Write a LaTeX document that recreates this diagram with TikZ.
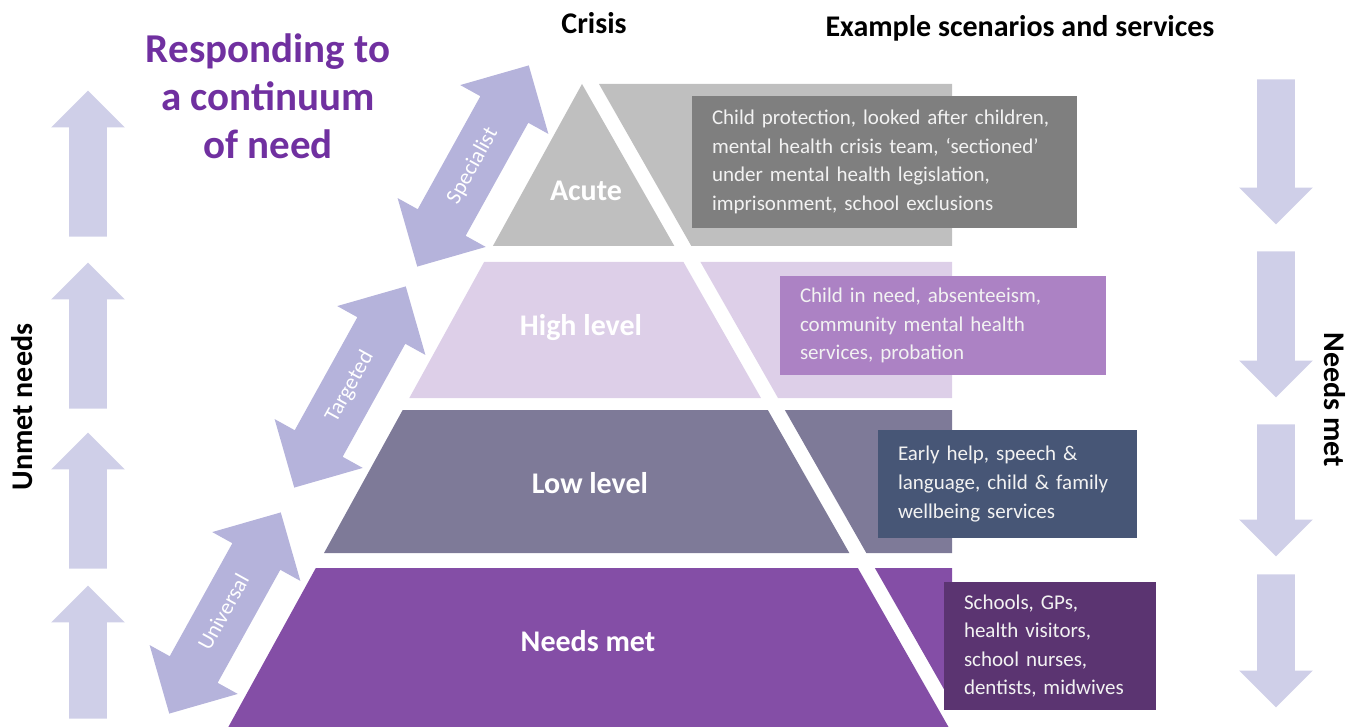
\documentclass[tikz,border=0pt]{standalone}
\usepackage{fontspec}
\setmainfont{Carlito}
\usetikzlibrary{shapes.arrows}
\usepackage{xcolor}
\definecolor{tieracute}{HTML}{BFBFBF}
\definecolor{tierhigh}{HTML}{DDCFE8}
\definecolor{tierlow}{HTML}{7E7A98}
\definecolor{tiermet}{HTML}{844EA6}
\definecolor{caseacute}{HTML}{7F7F7F}
\definecolor{casehigh}{HTML}{AC82C4}
\definecolor{caselow}{HTML}{475676}
\definecolor{casemet}{HTML}{5B3471}
\definecolor{casetext}{HTML}{F2F2F2}
\definecolor{titlepurple}{HTML}{7030A0}
\definecolor{reachfill}{HTML}{B5B3DB}
\definecolor{flowfill}{HTML}{CFCFE8}
\hyphenpenalty=10000
\tikzset{
  tierlabel/.style = {text=white, font=\fontsize{15}{18}\selectfont\bfseries},
  casebox/.style   = {fill=#1, text=casetext, align=left, inner xsep=10pt, inner ysep=0pt,
                      font=\fontsize{10.5}{14.3}\selectfont},
  reach/.style     = {double arrow, fill=reachfill, double arrow head extend=11.5pt,
                      minimum width=50pt, minimum height=115pt, rotate=61,
                      inner xsep=2pt, inner ysep=8.25pt, text height=8pt, text depth=2.5pt,
                      text=white, font=\fontsize{11}{13}\selectfont},
  flowarrow/.style = {single arrow, fill=flowfill, single arrow head extend=9pt,
                      minimum width=36.5pt, inner xsep=0pt, inner ysep=9.25pt, anchor=tip},
  heading/.style   = {font=\fontsize{15}{18}\selectfont\bfseries}
}

\begin{document}
\begin{tikzpicture}[x=0.5pt, y=-0.5pt]
\useasboundingbox (0,0) rectangle (1359,727);
% tiers of the pyramid, each with its panel behind the case box
\foreach \yt/\yb/\tier in {84/246/tieracute, 262/398/tierhigh, 410/553/tierlow, 568/727/tiermet} {
  \pgfmathsetmacro\xlt{582-0.55*(\yt-84)}
  \pgfmathsetmacro\xlb{582-0.55*(\yb-84)}
  \pgfmathsetmacro\xrt{582+0.57*(\yt-84)}
  \pgfmathsetmacro\xrb{582+0.57*(\yb-84)}
  \fill[\tier] (\xlt,\yt) -- (\xrt,\yt) -- (\xrb,\yb) -- (\xlb,\yb) -- cycle;
  \begin{scope}
    \clip (0,0) rectangle (952,727);
    \fill[\tier] (\xrt+17,\yt) -- (1000,\yt) -- (1000,\yb) -- (\xrb+17,\yb) -- cycle;
  \end{scope}
}
\node[tierlabel] (acute) at (586,191) {Acute};
\node[tierlabel] (high)  at (581,328) {High level};
\node[tierlabel] (low)   at (590,483) {Low level};
\node[tierlabel] (met)   at (588,641) {Needs met};

% example scenarios per tier
\node[casebox=caseacute, minimum width=192.5pt, minimum height=66pt, text width=172.5pt]
  (acutecases) at (884.5,162) {Child protection, looked after children,\\
  mental health crisis team, `sectioned'\\ under mental health legislation,\\
  imprisonment, school exclusions};
\node[casebox=casehigh, minimum width=163pt, minimum height=49.5pt, text width=143pt]
  (highcases) at (943,325.5) {Child in need, absenteeism,\\ community mental health\\
  services, probation};
\node[casebox=caselow, minimum width=129.5pt, minimum height=54pt, text width=109.5pt]
  (lowcases) at (1007.5,484) {Early help, speech \&\\ language, child \& family\\
  wellbeing services};
\node[casebox=casemet, minimum width=106pt, minimum height=64pt, text width=86pt]
  (metcases) at (1050,646) {Schools, GPs,\\ health visitors,\\ school nurses,\\
  dentists, midwives};

% service reach between tiers
\node[reach] (specialist) at (473,166) {Specialist};
\node[reach] (targeted)   at (350,387) {Targeted};
\node[reach] (universal)  at (225,613) {Universal};

% up and down flows at the sides, placed by their tips
\foreach \ytip/\len [count=\i] in {90/146, 262/146, 432/136, 585/133}
  \node[flowarrow, rotate=90, minimum height=\len*0.5pt] (unmet\i) at (88,\ytip) {};
\foreach \ytip/\len [count=\i] in {225/145, 398/146, 557/132, 708/133}
  \node[flowarrow, rotate=-90, minimum height=\len*0.5pt] (metflow\i) at (1276,\ytip) {};

\node[heading, rotate=90]  (unmetside) at (22,407)   {Unmet needs};
\node[heading, rotate=-90] (metside)   at (1335,400) {Needs met};
\node[heading, anchor=base] (crisis)   at (594,34)   {Crisis};
\node[heading, anchor=base] (examples) at (1020,37)  {Example scenarios and services};

\node[text=titlepurple, align=center, anchor=north, inner sep=0pt,
      font=\fontsize{20.5}{24}\selectfont\bfseries] (title) at (268,33)
  {Responding to\\ a continuum\\ of need};
\end{tikzpicture}
\end{document}
